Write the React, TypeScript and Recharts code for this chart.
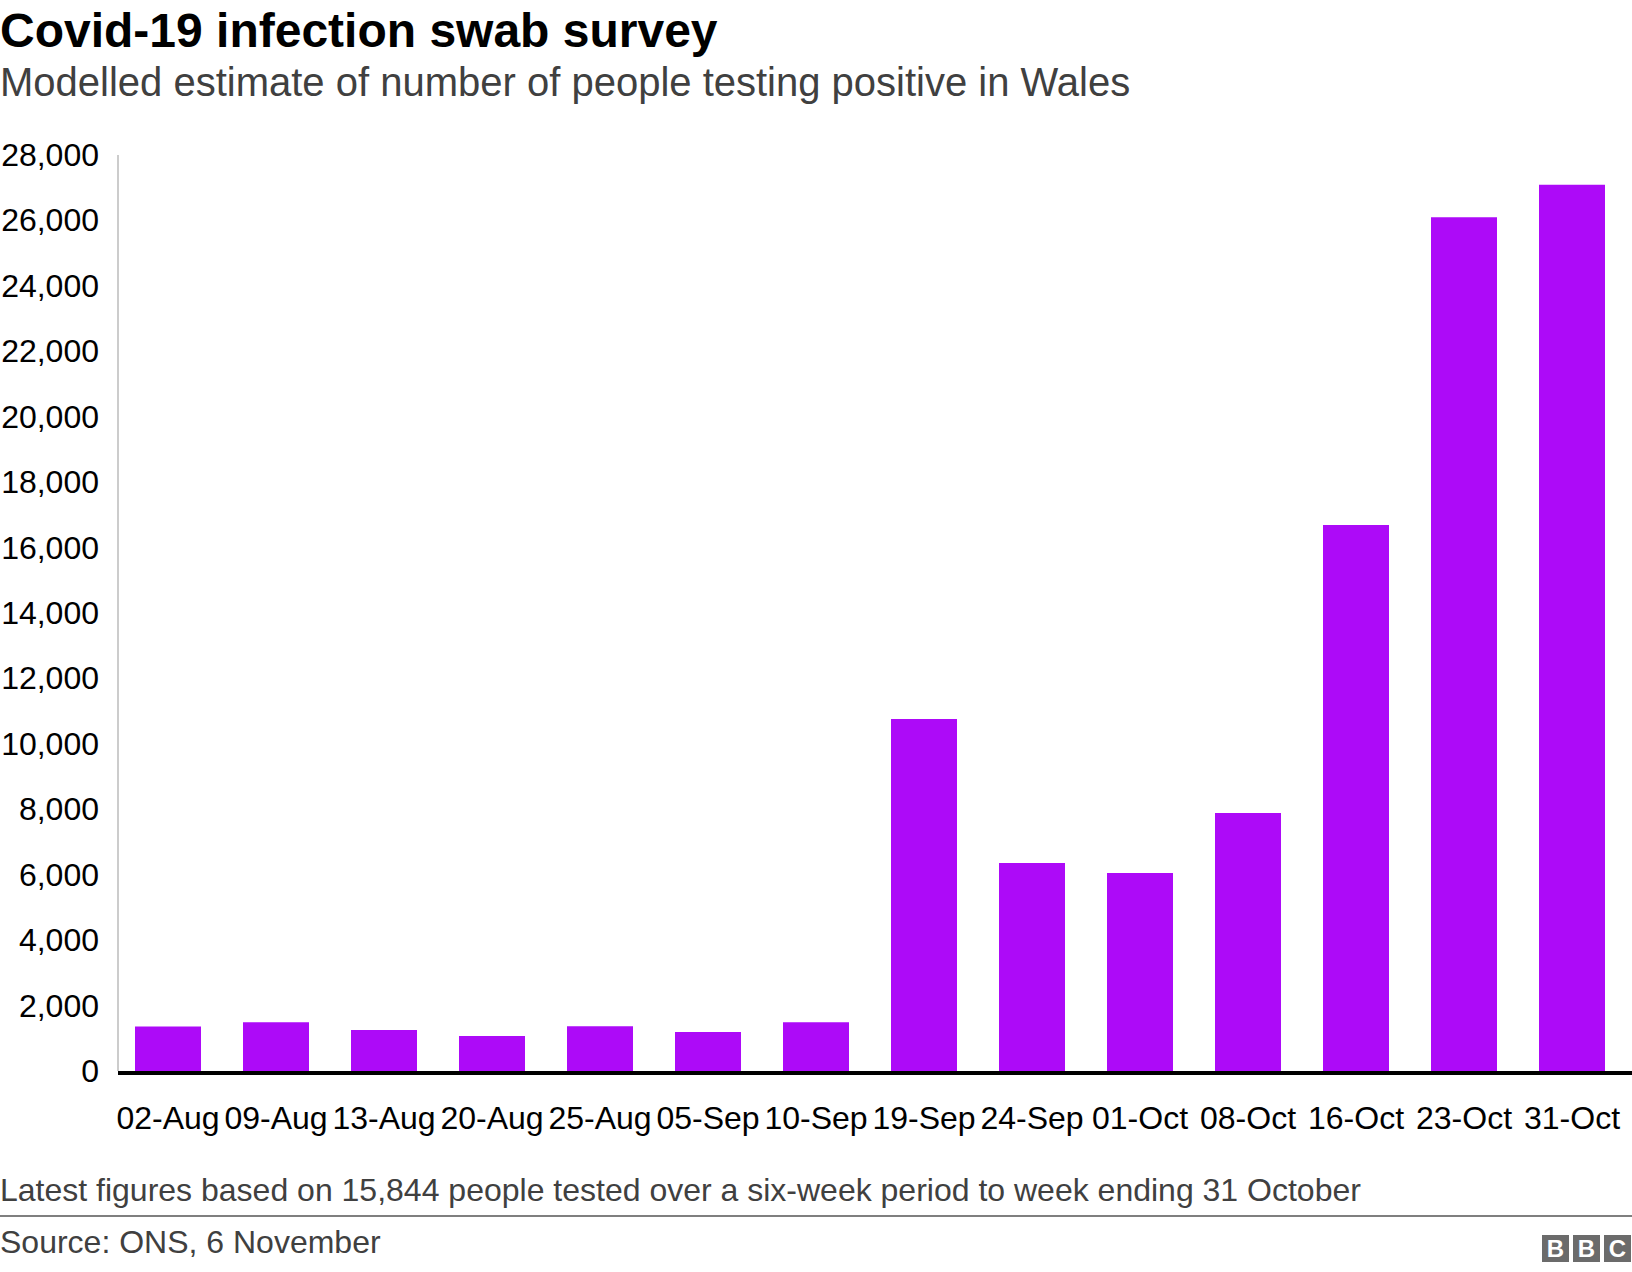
import { BarChart, Bar, XAxis, YAxis } from 'recharts';

const weeks = ['02-Aug', '09-Aug', '13-Aug', '20-Aug', '25-Aug', '05-Sep', '10-Sep', '19-Sep', '24-Sep', '01-Oct', '08-Oct', '16-Oct', '23-Oct', '31-Oct'];
const positives = [1360, 1490, 1250, 1070, 1370, 1190, 1490, 10760, 6360, 6050, 7890, 16690, 26100, 27090];
const yTicks = [0, 2000, 4000, 6000, 8000, 10000, 12000, 14000, 16000, 18000, 20000, 22000, 24000, 26000, 28000];

const FONT = '"Liberation Sans", Arial, Helvetica, sans-serif';

const data = weeks.map((week, i) => ({ week, value: positives[i] }));

const YTick = ({ x, y, payload }: any) => (
  <text x={x} y={y} dy={11} textAnchor="end" fontSize={32} fill="#000" fontFamily={FONT}>
    {Number(payload.value).toLocaleString('en-US')}
  </text>
);

const XTick = ({ x, y, payload }: any) => (
  <text x={x} y={y} dy={58} textAnchor="middle" fontSize={32} fill="#000" fontFamily={FONT}>
    {payload.value}
  </text>
);

const BbcBox = ({ letter }: { letter: string }) => (
  <div
    style={{
      width: 27,
      height: 27,
      background: '#6b6b6b',
      color: '#fff',
      fontWeight: 'bold',
      fontSize: 24,
      lineHeight: '27px',
      textAlign: 'center',
    }}
  >
    {letter}
  </div>
);

const App = () => {
  return (
    <div style={{ position: 'absolute', left: 0, top: 0, width: 1632, height: 1272, background: '#fff', fontFamily: FONT }}>
      <div style={{ position: 'absolute', left: 0, top: 47 - 44, fontSize: 48, fontWeight: 'bold', color: '#000', lineHeight: '55px', whiteSpace: 'nowrap' }}>
        Covid-19 infection swab survey
      </div>
      <div style={{ position: 'absolute', left: 0, top: 96 - 37, fontSize: 40, color: '#404040', lineHeight: '46px', whiteSpace: 'nowrap' }}>
        Modelled estimate of number of people testing positive in Wales
      </div>

      <div style={{ position: 'absolute', left: 0, top: 0 }}>
        <BarChart width={1632} height={1272} data={data} margin={{ top: 155, right: 0, bottom: 141, left: 0 }}>
          <YAxis
            width={118}
            domain={[0, 28000]}
            ticks={yTicks}
            interval={0}
            tickLine={false}
            tickSize={0}
            tickMargin={19}
            axisLine={{ stroke: '#cccccc', strokeWidth: 2 }}
            tick={<YTick />}
          />
          <XAxis
            dataKey="week"
            height={60}
            interval={0}
            tickLine={false}
            tickSize={0}
            tickMargin={0}
            padding={{ left: -4, right: 6 }}
            axisLine={{ stroke: '#000', strokeWidth: 4, transform: 'translate(0,2)' }}
            tick={<XTick />}
          />
          <Bar dataKey="value" fill="#ad0af8" barSize={66} isAnimationActive={false} />
        </BarChart>
      </div>

      <div style={{ position: 'absolute', left: 0, top: 1202 - 30, fontSize: 32, color: '#404040', lineHeight: '37px', whiteSpace: 'nowrap' }}>
        Latest figures based on 15,844 people tested over a six-week period to week ending 31 October
      </div>
      <div style={{ position: 'absolute', left: 0, top: 1215, width: 1632, height: 2, background: '#7f7f7f' }} />
      <div style={{ position: 'absolute', left: 0, top: 1254 - 30, fontSize: 32, color: '#404040', lineHeight: '37px', whiteSpace: 'nowrap' }}>
        Source: ONS, 6 November
      </div>
      <div style={{ position: 'absolute', left: 1542, top: 1235, display: 'flex', gap: 4 }}>
        <BbcBox letter="B" />
        <BbcBox letter="B" />
        <BbcBox letter="C" />
      </div>
    </div>
  );
};

export default App;
